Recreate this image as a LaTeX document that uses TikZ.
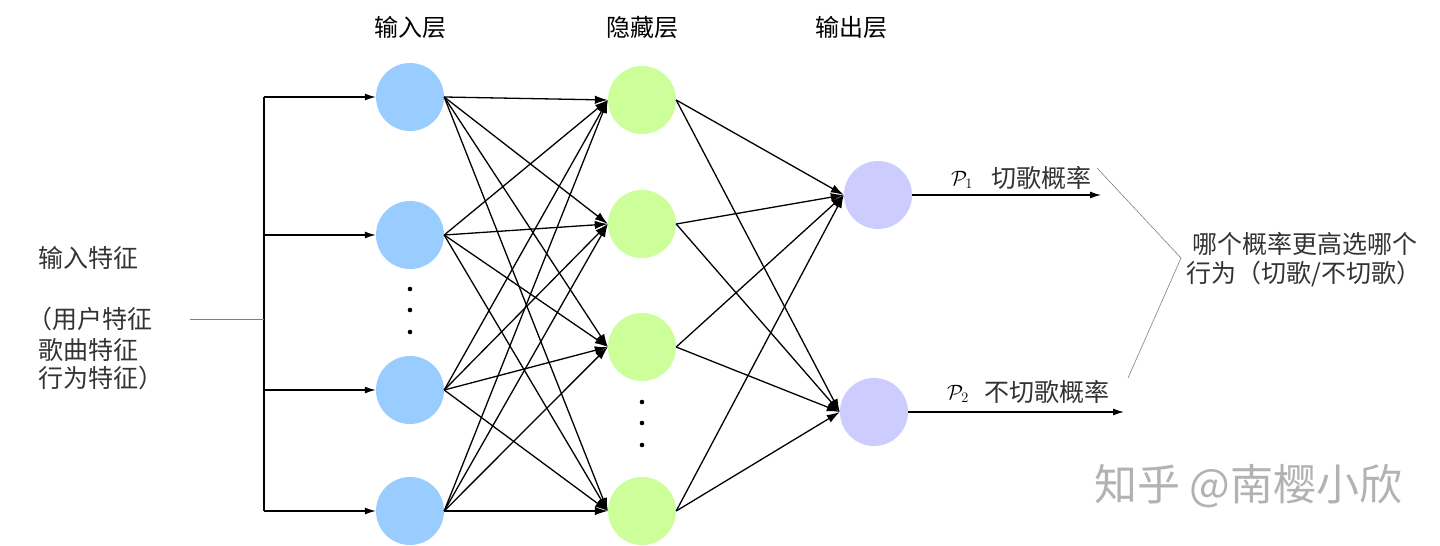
\documentclass[tikz,border=0pt]{standalone}
\usepackage{fontspec}
\newfontfamily\cjk{Noto Sans CJK SC}
\usetikzlibrary{arrows.meta}
\definecolor{inblue}{HTML}{99CCFF}
\definecolor{hidgreen}{HTML}{CCFF99}
\definecolor{outpurple}{HTML}{CCCCFF}
\definecolor{txtgray}{HTML}{333333}
\begin{document}
\begin{tikzpicture}[x=1pt,y=-1pt,
  neuron/.style={circle,minimum size=68pt,inner sep=0pt,draw=none},
  inneuron/.style={neuron,fill=inblue},
  hidneuron/.style={neuron,fill=hidgreen},
  outneuron/.style={neuron,fill=outpurple},
  conn/.style={line width=1.3pt,-{Latex[length=13pt,width=8.5pt]}},
  feed/.style={line width=1.3pt,-{Latex[length=11pt,width=7pt]}},
  thinline/.style={line width=0.6pt,draw=gray},
  head/.style={inner sep=0pt,font=\fontsize{24}{28}\selectfont\cjk},
  body/.style={inner sep=0pt,anchor=west,text=txtgray,font=\fontsize{25}{28}\selectfont\cjk},
  plabel/.style={inner sep=0pt,font=\fontsize{21}{24}\selectfont},
  dotmark/.style={fill=black}
]
\path[use as bounding box] (0,0) rectangle (1440,546);

% layer titles
\node[head] (t1) at (410,27) {输入层};
\node[head] (t2) at (642,27) {隐藏层};
\node[head] (t3) at (851,27) {输出层};

% neurons
\node[inneuron] (i1) at (410,97) {};
\node[inneuron] (i2) at (410,235) {};
\node[inneuron] (i3) at (410,390) {};
\node[inneuron] (i4) at (410,511) {};
\node[hidneuron] (h1) at (642,100) {};
\node[hidneuron] (h2) at (642,224) {};
\node[hidneuron] (h3) at (642,347) {};
\node[hidneuron] (h4) at (642,511) {};
\node[outneuron] (o1) at (878,195) {};
\node[outneuron] (o2) at (874,412) {};

% ellipsis dots
\fill[dotmark] (410,289) circle (2.3);
\fill[dotmark] (410,310) circle (2.3);
\fill[dotmark] (410,332) circle (2.3);
\fill[dotmark] (642,402) circle (2.3);
\fill[dotmark] (642,423) circle (2.3);
\fill[dotmark] (642,445) circle (2.3);

% input bus
\coordinate (b1) at (264,97);
\coordinate (b2) at (264,235);
\coordinate (b3) at (264,390);
\coordinate (b4) at (264,511);
\coordinate (bm) at (264,319);
\coordinate (feat) at (190,319);
\draw[line width=1.2pt] (b1) -- (b4);
\foreach \k in {1,2,3,4} \draw[feed] (b\k) -- (i\k.west);
\draw[thinline] (feat) -- (bm);

% input -> hidden
\foreach \a in {1,2,3,4}
  \foreach \b in {1,2,3,4}
    \draw[conn] (i\a.east) -- (h\b.west);

% hidden -> output
\foreach \a in {1,2,3,4}
  \foreach \b in {1,2}
    \draw[conn] (h\a.east) -- (o\b.west);

% outputs
\coordinate (p1end) at (1101,195);
\coordinate (p2end) at (1124,412);
\draw[feed] (o1.east) -- (p1end);
\draw[feed] (o2.east) -- (p2end);

\node[plabel] (p1) at (962,180) {$\mathcal{P}_1$};
\node[plabel] (p2) at (958,394) {$\mathcal{P}_2$};
\node[body] (l1) at (991,178) {切歌概率};
\node[body] (l2) at (984,392) {不切歌概率};

% bracket
\coordinate (k1) at (1097,168);
\coordinate (k2) at (1181,258);
\coordinate (k3) at (1128,378);
\draw[thinline] (k1) -- (k2) -- (k3);

\node[body] (r1) at (1192,244) {哪个概率更高选哪个};
\node[body] (r2) at (1186,274) {行为（切歌/不切歌）};

% input feature text
\node[body] (f0) at (38,258) {输入特征};
\node[body] (f1) at (27,319) {（用户特征};
\node[body] (f2) at (38,350) {歌曲特征};
\node[body] (f3) at (38,378) {行为特征）};

% watermark
\node[inner sep=0pt,anchor=west,text=black!30,font=\fontsize{43}{46}\selectfont\cjk] (wm) at (1094,486) {知乎 @南樱小欣};
\end{tikzpicture}
\end{document}
